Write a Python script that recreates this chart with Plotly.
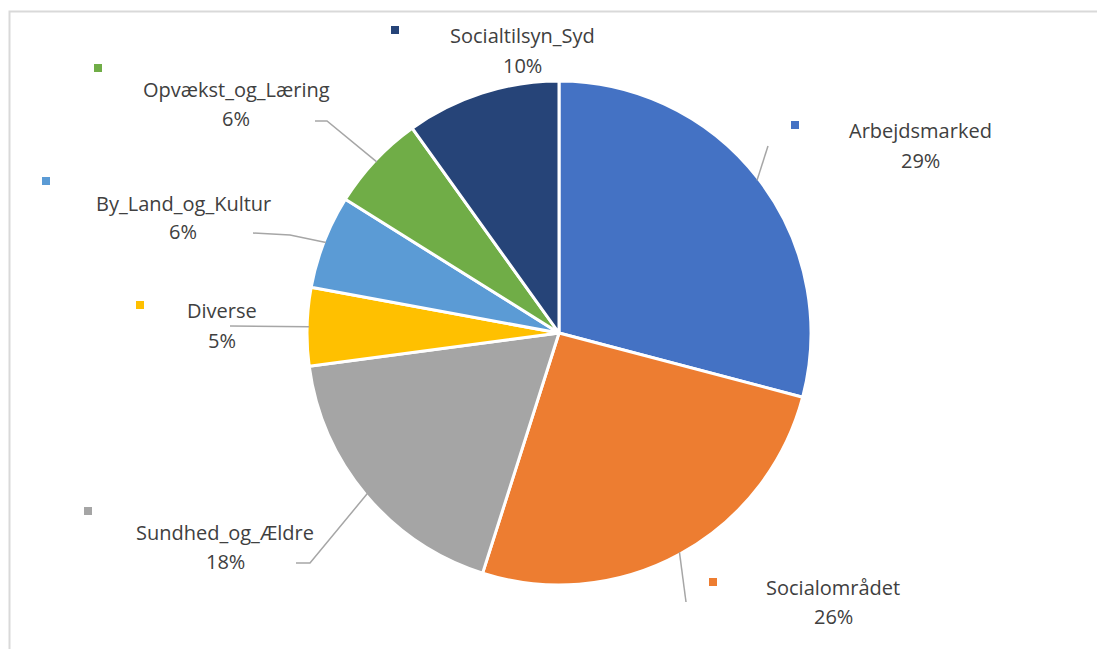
import math
import plotly.graph_objects as go

# Shares per area (percent), clockwise from 12 o'clock
areas = ["Arbejdsmarked", "Socialområdet", "Sundhed_og_Ældre", "Diverse",
         "By_Land_og_Kultur", "Opvækst_og_Læring", "Socialtilsyn_Syd"]
shares = [29.1, 25.8, 18.0, 5.0, 6.0, 6.2, 9.9]
colors = ["#4472C4", "#ED7D31", "#A5A5A5", "#FFC000", "#5B9BD5", "#70AD47", "#264478"]

W, H = 1097, 649
CX, CY, R = 559, 333, 250  # pie centre and radius in pixels


def px(x):
    return x / W


def py(y):
    return 1 - y / H


# Label layout: text centre (x, y of name line), key square position, leader elbow
label_pos = {
    "Arbejdsmarked": dict(tx=920, ty=131, kx=795, ky=125, elbow=[(768, 146)]),
    "Socialområdet": dict(tx=833, ty=587, kx=713, ky=582, elbow=[(686, 602)]),
    "Sundhed_og_Ældre": dict(tx=225, ty=532, kx=88, ky=511, elbow=[(310, 563), (296, 563)]),
    "Diverse": dict(tx=222, ty=311, kx=140, ky=305, elbow=[(230, 326)]),
    "By_Land_og_Kultur": dict(tx=183, ty=203, kx=46, ky=181, elbow=[(290, 235), (253, 233)]),
    "Opvækst_og_Læring": dict(tx=236, ty=90, kx=98, ky=68, elbow=[(327, 121), (315, 121)]),
    "Socialtilsyn_Syd": dict(tx=522, ty=36, kx=395, ky=30, elbow=None),
}

pad = 2  # plotly draws the pie slightly inside its domain
fig = go.Figure(go.Pie(
    labels=areas,
    values=shares,
    sort=False,
    direction="clockwise",
    rotation=0,
    textinfo="none",
    hoverinfo="label+percent",
    marker=dict(colors=colors, line=dict(color="white", width=3)),
    domain=dict(x=[px(CX - R - pad), px(CX + R + pad)],
                y=[py(CY + R + pad), py(CY - R - pad)]),
    showlegend=False,
))

shapes = [
    # chart frame
    dict(type="rect", xref="paper", yref="paper",
         x0=px(9.5), x1=px(1110), y0=py(11.5), y1=py(670),
         line=dict(color="#D9D9D9", width=2), fillcolor="rgba(0,0,0,0)"),
]
annotations = []
font = dict(family="Open Sans", size=20, color="#404040")

total = sum(shares)
cum = 0.0
for name, val, col in zip(areas, shares, colors):
    mid = (cum + val / 2) / total * 2 * math.pi
    cum += val
    pos = label_pos[name]
    annotations.append(dict(x=px(pos["tx"]), y=py(pos["ty"]), xref="paper", yref="paper",
                            text=name, showarrow=False, font=font,
                            xanchor="center", yanchor="middle"))
    annotations.append(dict(x=px(pos["tx"]), y=py(pos["ty"] + 29), xref="paper", yref="paper",
                            text=f"{round(val / total * 100)}%", showarrow=False, font=font,
                            xanchor="center", yanchor="middle"))
    k = 4
    shapes.append(dict(type="rect", xref="paper", yref="paper",
                       x0=px(pos["kx"] - k), x1=px(pos["kx"] + k),
                       y0=py(pos["ky"] + k), y1=py(pos["ky"] - k),
                       fillcolor=col, line=dict(width=0)))
    if pos["elbow"]:
        ex = CX + R * math.sin(mid)
        ey = CY - R * math.cos(mid)
        pts = [(ex, ey)] + pos["elbow"]
        path = "M " + " L ".join(f"{px(x)},{py(y)}" for x, y in pts)
        shapes.append(dict(type="path", xref="paper", yref="paper", path=path,
                           line=dict(color="#A6A6A6", width=1.5)))

fig.update_layout(
    width=W, height=H,
    margin=dict(l=0, r=0, t=0, b=0),
    paper_bgcolor="white",
    plot_bgcolor="white",
    shapes=shapes,
    annotations=annotations,
)

fig.write_html("out.html")
